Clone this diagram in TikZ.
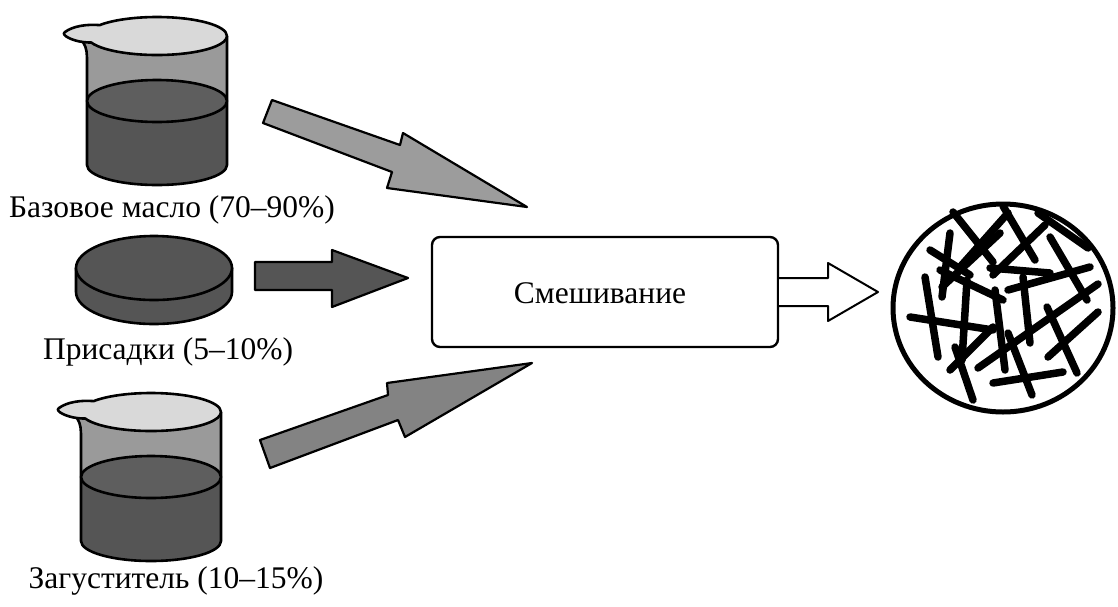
\documentclass[tikz,border=0pt]{standalone}
\usepackage{fontspec}
\setmainfont{Liberation Serif}
\definecolor{glass}{HTML}{9A9A9A}
\definecolor{liquid}{HTML}{555555}
\definecolor{surface}{HTML}{5E5E5E}
\definecolor{rimgrey}{HTML}{D9D9D9}
\definecolor{lightarrow}{HTML}{9C9C9C}
\definecolor{darkarrow}{HTML}{838383}
\begin{document}
\begin{tikzpicture}[x=1pt,y=1pt,line join=round,
  outline/.style={draw=black,line width=2.6pt},
  lbl/.style={font=\fontsize{31.5}{37}\selectfont,inner sep=0pt},
  fibre/.style={line width=7.5pt,line cap=round},
  beaker/.pic={
    % glass wall above the liquid
    \fill[glass] (-74,-6) .. controls (-70,-12) and (-70,-18) .. (-70,-26)
      -- (-70,-65) -- (70,-65) -- (70,0) -- cycle;
    % liquid column
    \fill[liquid] (-70,-65) -- (-70,-129)
      arc[start angle=180,end angle=360,x radius=70,y radius=20] -- (70,-65) -- cycle;
    \draw[outline] (-74,-6) .. controls (-70,-12) and (-70,-18) .. (-70,-26)
      -- (-70,-129) arc[start angle=180,end angle=360,x radius=70,y radius=20]
      -- (70,0);
    % liquid surface
    \filldraw[fill=surface,outline] (0,-65) ellipse[x radius=70,y radius=21];
    % rim with spout
    \filldraw[fill=rimgrey,outline] (70,0)
      arc[start angle=0,end angle=145,x radius=70,y radius=19]
      .. controls (-70,12) and (-84,10) .. (-92,4)
      .. controls (-97,1) and (-84,-5) .. (-74,-6)
      .. controls (-70,-6.5) and (-68,-6.5) .. (-65.8,-6.5)
      arc[start angle=200,end angle=360,x radius=70,y radius=19] -- cycle;
  },
  tablet/.pic={
    \filldraw[fill=liquid,outline] (-78,0) -- (-78,-24)
      arc[start angle=180,end angle=360,x radius=78,y radius=32] -- (78,0) -- cycle;
    \filldraw[fill=liquid,outline] (0,0) ellipse[x radius=78,y radius=32];
  }]
\useasboundingbox (0,0) rectangle (1118,-606);

% ingredients
\pic at (157,-36) {beaker};
\pic at (154,-268) {tablet};
\pic at (151,-412) {beaker};

\node[lbl,anchor=base] (oil) at (172,-217) {Базовое масло (70–90\%)};
\node[lbl,anchor=base] (add) at (168,-359) {Присадки (5–10\%)};
\node[lbl,anchor=base] (thk) at (176,-588) {Загуститель (10–15\%)};

% mixing stage
\node[draw=black,line width=2.4pt,rounded corners=8pt,minimum width=346pt,
  minimum height=110pt,inner sep=0pt] (mix) at (605,-292) {};
\node[lbl,anchor=base] (mixtext) at (600,-303) {Смешивание};

% block arrows into the mixer
\filldraw[fill=lightarrow,draw=black,line width=2.2pt]
  (272,-100) -- (400,-145) -- (403,-133) -- (527,-207) -- (387,-188)
  -- (392,-172) -- (263,-123) -- cycle;
\filldraw[fill=liquid,draw=black,line width=2.2pt]
  (255,-262) -- (332,-262) -- (332,-250) -- (408,-278) -- (332,-307)
  -- (332,-290) -- (255,-290) -- cycle;
\filldraw[fill=darkarrow,draw=black,line width=2.2pt]
  (260,-440) -- (388,-395) -- (387,-383) -- (532,-363) -- (405,-437)
  -- (398,-420) -- (270,-468) -- cycle;

% output arrow
\filldraw[fill=white,draw=black,line width=2pt]
  (mix.east |- 0,-278) -- (828,-278) -- (828,-263) -- (878,-292) -- (828,-321)
  -- (828,-306) -- (mix.east |- 0,-306);

% grease structure: thickener fibres in a circle
\draw[line width=5pt] (1003,-308) ellipse[x radius=110,y radius=104];
\foreach \ax/\ay/\bx/\by in {
  953/212/993/262, 1003/206/1035/260, 930/250/970/275, 960/267/1008/213,
  942/287/1000/233, 950/233/942/297, 1038/213/1088/248, 993/275/1045/225,
  1050/237/1087/300, 1008/290/1090/267, 925/277/938/357, 910/317/993/330,
  967/280/962/360, 950/370/993/327, 955/347/973/400, 995/290/1005/370,
  1023/277/1030/343, 978/368/1098/284, 993/383/1063/372, 1008/333/1032/395,
  1047/307/1077/373, 1048/357/1098/312, 990/268/1050/273, 940/270/1003/300}
  \draw[fibre] (\ax,-\ay) -- (\bx,-\by);
\end{tikzpicture}
\end{document}
